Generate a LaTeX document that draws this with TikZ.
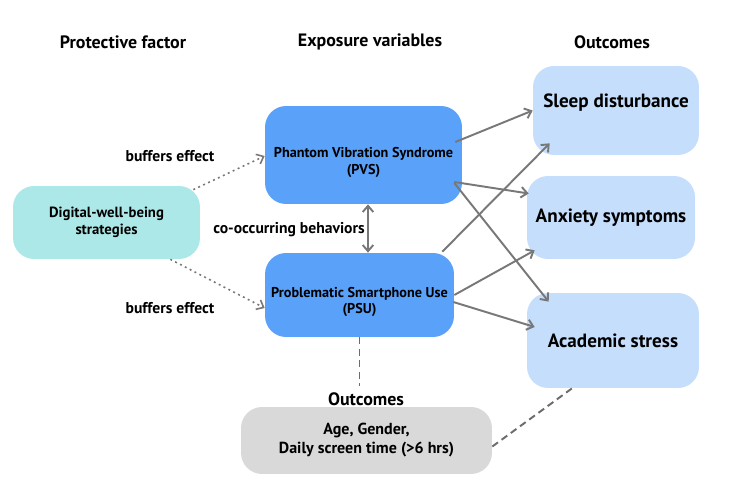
\documentclass[tikz,border=0pt]{standalone}
\usepackage{fontspec}
\setmainfont{PT Sans}
\usetikzlibrary{arrows.meta, positioning}
\definecolor{Azul}{RGB}{90,161,250}
\definecolor{AzulClaro}{RGB}{197,222,252}
\definecolor{Turquesa}{RGB}{173,232,232}
\definecolor{GrisClaro}{RGB}{217,217,217}
\definecolor{GrisFlecha}{RGB}{120,120,120}

\begin{document}
\begin{tikzpicture}[
  x=0.02cm, y=-0.02cm,
  box/.style={
    rounded corners=12pt, align=center,
    inner sep=2pt
  },
  prot/.style={box, fill=Turquesa, font=\fontsize{8.4}{10}\selectfont\bfseries},
  expo/.style={box, fill=Azul, font=\fontsize{8.1}{9.6}\selectfont\bfseries},
  outc/.style={box, fill=AzulClaro, font=\fontsize{10.9}{12}\selectfont\bfseries},
  covar/.style={box, fill=GrisClaro, font=\fontsize{9.1}{10.8}\selectfont\bfseries},
  head/.style={font=\fontsize{10.2}{12}\selectfont\bfseries},
  lbl/.style={font=\fontsize{8.9}{10}\selectfont\bfseries},
  arr/.style={->, >={Straight Barb[length=3.5pt, width=6pt]}, GrisFlecha, line width=1.1pt},
  buf/.style={arr, dotted, line width=0.9pt},
  dsh/.style={GrisFlecha!90!black, dashed, dash pattern=on 4pt off 2.5pt, line width=1.1pt}
]
\fill[white] (0,0) rectangle (750,500);

\node[head] (hprot) at (123,42) {Protective factor};
\node[head] (hexpo) at (370,42) {Exposure variables};
\node[head] (hout) at (612,42) {Outcomes};

\node[prot, minimum width=3.74cm, minimum height=1.46cm]
  (digi) at (106.5,222.5) {Digital-well-being\\strategies};
\node[expo, minimum width=3.94cm, minimum height=1.96cm]
  (pvs) at (363.5,155) {\rule{0pt}{0.52cm}Phantom Vibration Syndrome\\(PVS)};
\node[expo, minimum width=3.78cm, minimum height=1.68cm]
  (psu) at (359.5,295) {\rule{0pt}{0.48cm}Problematic Smartphone Use\\(PSU)};
\node[outc, minimum width=3.32cm, minimum height=1.78cm,
  text height=0.28cm, text depth=0.42cm]
  (sleep) at (616,110.5) {Sleep disturbance};
\node[outc, minimum width=3.36cm, minimum height=1.66cm]
  (anx) at (611,217.5) {Anxiety symptoms};
\node[outc, minimum width=3.44cm, minimum height=1.9cm]
  (acad) at (613,340.5) {Academic stress};
\node[covar, minimum width=5.02cm, minimum height=1.34cm]
  (cov) at (366.5,440.5) {Age, Gender,\\Daily screen time (>6 hrs)};

\node[lbl] (buf1) at (170,156) {buffers effect};
\node[lbl] (buf2) at (170,308) {buffers effect};
\node[lbl] (cooc) at (289,230) {co-occurring behaviors};
\node[head] (covlbl) at (366,399) {Outcomes};

\draw[buf] ([shift={(-7,4)}]digi.north east) -- ([shift={(0,1)}]pvs.west);
\draw[buf] ([shift={(-30,0)}]digi.south east) -- ([shift={(0,13)}]psu.west);
\draw[arr, <->] ([shift={(4.5,0)}]pvs.south) -- ([shift={(8.5,0)}]psu.north);

\draw[arr] ([shift={(-7,-13)}]pvs.east) -- (sleep.west);
\draw[arr] ([shift={(-8,27)}]pvs.east) -- ([shift={(2,-24)}]anx.west);
\draw[arr] ([shift={(-8,28)}]pvs.east) -- ([shift={(22,9)}]acad.north west);
\draw[arr] ([shift={(-12,-1)}]psu.north east) -- ([shift={(17,-12)}]sleep.south west);
\draw[arr] (psu.east) -- ([shift={(8,-9)}]anx.south west);
\draw[arr] ([shift={(-1,7)}]psu.east) -- ([shift={(8,-13.5)}]acad.west);

\draw[dsh] (psu.south) -- (psu.south |- covlbl.north);
\draw[dsh] ([shift={(0,6)}]cov.east) -- ([shift={(-41,0)}]acad.south);

\end{tikzpicture}
\end{document}
